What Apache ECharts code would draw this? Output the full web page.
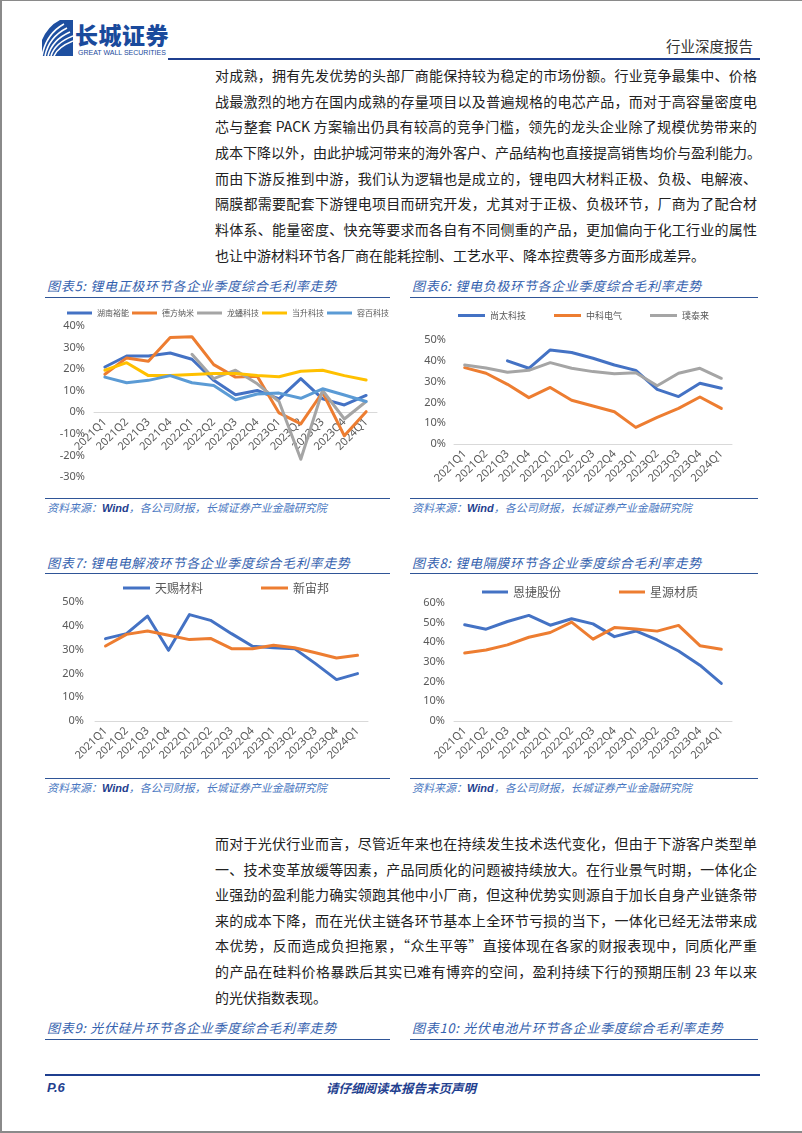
<!DOCTYPE html>
<html><head><meta charset="utf-8">
<script src="https://cdn.jsdelivr.net/npm/echarts/dist/echarts.min.js"></script>
<style>
body{margin:0;width:802px;height:1133px;position:relative;background:#fff;overflow:hidden;font-family:"Noto Sans CJK SC",sans-serif;}
.abs{position:absolute;}
.ln{position:absolute;left:215px;width:542px;height:20px;line-height:20px;font-size:14px;color:#222;text-align:justify;text-align-last:justify;white-space:nowrap;}
.ln.last{text-align-last:left;}
.ttl{position:absolute;height:18px;line-height:18px;font-size:13px;font-style:italic;color:#3461AE;letter-spacing:0.7px;white-space:nowrap;}
.src{position:absolute;height:14px;line-height:14px;font-size:11px;font-style:italic;color:#4A78C2;letter-spacing:0;white-space:nowrap;}
.src b{font-family:"Liberation Sans",sans-serif;color:#1F3F8F;font-weight:bold;}
.hl{position:absolute;height:0;border-top:1.5px solid #2F5597;}
.chart{position:absolute;}
</style></head>
<body>
<div class="abs" style="left:0;top:0;width:2px;height:1133px;background:#8a8a8a"></div>
<div class="abs" style="left:0;top:0;width:802px;height:1px;background:#8a8a8a"></div>
<div class="abs" style="left:0;top:1131px;width:802px;height:2px;background:#8a8a8a"></div>

<!-- header -->
<svg class="abs" style="left:42px;top:20px" width="31" height="36" viewBox="0 0 31 36">
<rect x="0" y="0" width="31" height="36" fill="#1E4FA0"/>
<path d="M0 36 Q4 14 22 4" stroke="#fff" stroke-width="1.6" fill="none"/>
<path d="M3 36 Q7 17 25 8" stroke="#fff" stroke-width="1.6" fill="none"/>
<path d="M6 36 Q10 20 28 12" stroke="#fff" stroke-width="1.6" fill="none"/>
<path d="M9 36 Q13 23 31 16" stroke="#fff" stroke-width="1.6" fill="none"/>
<path d="M12 36 Q16 27 31 21" stroke="#fff" stroke-width="1.6" fill="none"/>
<path d="M0 0 L18 0 Q6 6 0 20 Z" fill="#fff"/>
</svg>
<div class="abs" style="left:75px;top:20px;font-size:23px;line-height:28px;font-weight:900;color:#1A4A9C;letter-spacing:0.5px;white-space:nowrap">长城证券</div>
<div class="abs" style="left:78px;top:48px;font-size:7px;line-height:9px;font-family:'Liberation Sans',sans-serif;color:#1A4A9C;white-space:nowrap">GREAT WALL SECURITIES</div>
<div class="abs" style="left:666px;top:37px;font-size:14.5px;line-height:18px;color:#333;white-space:nowrap">行业深度报告</div>
<div class="abs" style="left:168px;top:58px;width:592px;height:2px;background:#1F3F8F"></div>

<!-- paragraph 1 -->
<div class="ln" style="top:65px">对成熟，拥有先发优势的头部厂商能保持较为稳定的市场份额。行业竞争最集中、价格</div>
<div class="ln" style="top:91px">战最激烈的地方在国内成熟的存量项目以及普遍规格的电芯产品，而对于高容量密度电</div>
<div class="ln" style="top:116px">芯与整套 PACK 方案输出仍具有较高的竞争门槛，领先的龙头企业除了规模优势带来的</div>
<div class="ln last" style="top:142px">成本下降以外，由此护城河带来的海外客户、产品结构也直接提高销售均价与盈利能力。</div>
<div class="ln" style="top:168px">而由下游反推到中游，我们认为逻辑也是成立的，锂电四大材料正极、负极、电解液、</div>
<div class="ln" style="top:193px">隔膜都需要配套下游锂电项目而研究开发，尤其对于正极、负极环节，厂商为了配合材</div>
<div class="ln" style="top:219px">料体系、能量密度、快充等要求而各自有不同侧重的产品，更加偏向于化工行业的属性</div>
<div class="ln last" style="top:245px">也让中游材料环节各厂商在能耗控制、工艺水平、降本控费等多方面形成差异。</div>

<!-- titles row 1 -->
<div class="ttl" style="left:47px;top:277px">图表5:&nbsp;锂电正极环节各企业季度综合毛利率走势</div>
<div class="ttl" style="left:412px;top:277px">图表6:&nbsp;锂电负极环节各企业季度综合毛利率走势</div>
<div class="hl" style="left:45px;top:297px;width:345px"></div>
<div class="hl" style="left:410px;top:297px;width:348px"></div>
<div id="c5" class="chart" style="left:45px;top:298px;width:345px;height:200px"></div>
<div id="c6" class="chart" style="left:410px;top:298px;width:350px;height:200px"></div>
<div class="hl" style="left:45px;top:498px;width:345px"></div>
<div class="hl" style="left:410px;top:498px;width:348px"></div>
<div class="src" style="left:47px;top:500px">资料来源：<b>Wind</b>，各公司财报，长城证券产业金融研究院</div>
<div class="src" style="left:412px;top:500px">资料来源：<b>Wind</b>，各公司财报，长城证券产业金融研究院</div>

<!-- titles row 2 -->
<div class="ttl" style="left:47px;top:554px">图表7:&nbsp;锂电电解液环节各企业季度综合毛利率走势</div>
<div class="ttl" style="left:412px;top:554px">图表8:&nbsp;锂电隔膜环节各企业季度综合毛利率走势</div>
<div class="hl" style="left:45px;top:573px;width:345px"></div>
<div class="hl" style="left:410px;top:573px;width:348px"></div>
<div id="c7" class="chart" style="left:45px;top:574px;width:345px;height:204px"></div>
<div id="c8" class="chart" style="left:410px;top:574px;width:350px;height:204px"></div>
<div class="hl" style="left:45px;top:778px;width:345px"></div>
<div class="hl" style="left:410px;top:778px;width:348px"></div>
<div class="src" style="left:47px;top:780px">资料来源：<b>Wind</b>，各公司财报，长城证券产业金融研究院</div>
<div class="src" style="left:412px;top:780px">资料来源：<b>Wind</b>，各公司财报，长城证券产业金融研究院</div>

<!-- paragraph 2 -->
<div class="ln" style="top:833px">而对于光伏行业而言，尽管近年来也在持续发生技术迭代变化，但由于下游客户类型单</div>
<div class="ln" style="top:859px">一、技术变革放缓等因素，产品同质化的问题被持续放大。在行业景气时期，一体化企</div>
<div class="ln" style="top:884px">业强劲的盈利能力确实领跑其他中小厂商，但这种优势实则源自于加长自身产业链条带</div>
<div class="ln" style="top:910px">来的成本下降，而在光伏主链各环节基本上全环节亏损的当下，一体化已经无法带来成</div>
<div class="ln" style="top:935px">本优势，反而造成负担拖累，“众生平等”直接体现在各家的财报表现中，同质化严重</div>
<div class="ln" style="top:961px">的产品在硅料价格暴跌后其实已难有博弈的空间，盈利持续下行的预期压制 23 年以来</div>
<div class="ln last" style="top:987px">的光伏指数表现。</div>

<!-- titles row 3 -->
<div class="ttl" style="left:47px;top:1019px">图表9:&nbsp;光伏硅片环节各企业季度综合毛利率走势</div>
<div class="ttl" style="left:412px;top:1019px">图表10:&nbsp;光伏电池片环节各企业季度综合毛利率走势</div>
<div class="hl" style="left:45px;top:1039px;width:345px"></div>
<div class="hl" style="left:410px;top:1039px;width:348px"></div>

<!-- footer -->
<div class="abs" style="left:45px;top:1074px;width:715px;height:2px;background:#1F3F8F"></div>
<div class="abs" style="left:47px;top:1080px;font-size:13px;line-height:16px;font-weight:bold;font-style:italic;color:#1F3F8F;font-family:'Liberation Sans',sans-serif">P.6</div>
<div class="abs" style="left:326px;top:1080px;font-size:12.5px;line-height:16px;font-weight:bold;font-style:italic;color:#1F3F8F;white-space:nowrap">请仔细阅读本报告末页声明</div>

<script>
// ---------- data ----------
var quarters = ['2021Q1','2021Q2','2021Q3','2021Q4','2022Q1','2022Q2','2022Q3','2022Q4','2023Q1','2023Q2','2023Q3','2023Q4','2024Q1'];

// 图表5 正极
var cathodeNames = ['湖南裕能','德方纳米','龙蟠科技','当升科技','容百科技'];
var hunanYuneng = [21.0, 26.1, 26.1, 27.5, 24.6, 14.8, 8.1, 10.1, 6.2, 15.6, 6.2, 3.4, 7.8];
var defangNano  = [17.6, 25.2, 23.7, 34.7, 35.0, 22.1, 16.3, 16.7, -0.3, -5.4, 9.3, -10.9, 0.3];
var longpanTech = [null, null, null, null, 26.9, 15.6, 19.5, 13.2, 5.0, -21.8, 10.1, -3.1, 5.0];
var dangshengTech = [19.5, 23.0, 17.0, 17.0, 17.5, 18.0, 18.0, 17.0, 16.5, 19.0, 19.5, 17.0, 15.0];
var rongbaiTech = [16.3, 13.7, 14.8, 17.0, 13.7, 12.4, 5.8, 8.5, 8.9, 6.5, 10.9, 8.0, 5.0];

// 图表6 负极
var anodeNames = ['尚太科技','中科电气','璞泰来'];
var shangtaiTech = [null, null, 40.0, 36.4, 45.2, 44.0, 41.2, 38.0, 35.4, 26.3, 22.8, 29.2, 26.8];
var zhongkeElec  = [36.7, 34.0, 28.7, 22.3, 27.2, 21.0, 18.3, 15.5, 8.0, 12.8, 17.1, 22.6, 17.1];
var putailai     = [38.0, 36.5, 34.5, 35.4, 39.1, 36.4, 34.8, 33.8, 34.3, 28.0, 34.0, 36.4, 31.6];

// 图表7 电解液
var electrolyteNames = ['天赐材料','新宙邦'];
var tinciMat   = [34.6, 36.7, 44.1, 29.7, 44.7, 42.3, 36.7, 31.4, 30.8, 30.4, 24.1, 17.4, 19.9];
var capchem    = [31.5, 36.4, 37.8, 36.0, 34.2, 34.7, 30.4, 30.4, 31.8, 30.8, 28.7, 26.5, 27.6];

// 图表8 隔膜
var separatorNames = ['恩捷股份','星源材质'];
var semcorp    = [48.9, 46.7, 50.6, 53.7, 48.7, 52.0, 49.4, 42.9, 45.8, 41.2, 35.6, 28.4, 19.1];
var senior     = [34.6, 36.1, 38.7, 42.6, 45.0, 50.3, 41.6, 47.5, 46.8, 45.7, 48.6, 38.3, 36.5];

// ---------- helpers ----------
var C_BLUE='#4472C4', C_ORANGE='#ED7D31', C_GRAY='#A5A5A5', C_YELLOW='#FFC000', C_LBLUE='#5B9BD5';
var AX_TXT = '#595959';

function mkSeries(names, datas, colors){
  return names.map(function(n,i){
    return {name:n, type:'line', data:datas[i], symbol:'none', connectNulls:false,
      lineStyle:{width:3, color:colors[i], cap:'round', join:'round'},
      itemStyle:{color:colors[i]}};
  });
}
function mkOption(o, boxH){
  var g = Object.assign({outerBoundsMode:'none', containLabel:false}, o.grid);
  var gh = boxH - g.top - g.bottom;
  // place the category axis at the 0% line (share of the value range below zero)
  var off = o.min < 0 ? -gh * (-o.min) / (o.max - o.min) : 0;
  return {
    animation:false,
    legend:Object.assign({icon:'rect', itemHeight:3, data:o.names,
      textStyle:{color:AX_TXT, fontSize:o.legFont, fontFamily:'Noto Sans CJK SC'}}, o.legend),
    grid:g,
    xAxis:{type:'category', data:quarters, boundaryGap:true, position:'bottom', offset:off,
      axisLine:{onZero:false, lineStyle:{color:'#D9D9D9', width:1}},
      axisTick:{show:false},
      axisLabel:{interval:0, rotate:45, margin:o.xMargin||8, color:AX_TXT, fontSize:11, fontFamily:'Noto Sans'}},
    yAxis:{type:'value', min:o.min, max:o.max, interval:10,
      axisLine:{show:false}, axisTick:{show:false}, splitLine:{show:false},
      axisLabel:{formatter:'{value}%', margin:o.yMargin||9, color:AX_TXT, fontSize:11, fontFamily:'Noto Sans'}},
    series:mkSeries(o.names, o.datas, o.colors)
  };
}

echarts.init(document.getElementById('c5')).setOption(mkOption({
  names:cathodeNames, datas:[hunanYuneng, defangNano, longpanTech, dangshengTech, rongbaiTech],
  colors:[C_BLUE, C_ORANGE, C_GRAY, C_YELLOW, C_LBLUE],
  legFont:8, legend:{left:17, top:6, width:360, itemWidth:25, itemGap:3},
  grid:{left:49, right:13, top:28, bottom:21}, min:-30, max:40, yMargin:9
}, 200));
echarts.init(document.getElementById('c6')).setOption(mkOption({
  names:anodeNames, datas:[shangtaiTech, zhongkeElec, putailai],
  colors:[C_BLUE, C_ORANGE, C_GRAY],
  legFont:9, legend:{left:43, top:8, itemWidth:27, itemGap:28},
  grid:{left:44, right:28, top:42, bottom:54}, min:0, max:50, yMargin:8
}, 200));
echarts.init(document.getElementById('c7')).setOption(mkOption({
  names:electrolyteNames, datas:[tinciMat, capchem],
  colors:[C_BLUE, C_ORANGE],
  legFont:12, legend:{left:73, top:3, itemWidth:27, itemGap:58},
  grid:{left:50, right:22, top:28, bottom:57}, min:0, max:50, yMargin:11
}, 204));
echarts.init(document.getElementById('c8')).setOption(mkOption({
  names:separatorNames, datas:[semcorp, senior],
  colors:[C_BLUE, C_ORANGE],
  legFont:12, legend:{left:67, top:7, itemWidth:26, itemGap:58},
  grid:{left:44, right:28, top:29, bottom:57}, min:0, max:60, yMargin:9
}, 204));
</script>
</body></html>
